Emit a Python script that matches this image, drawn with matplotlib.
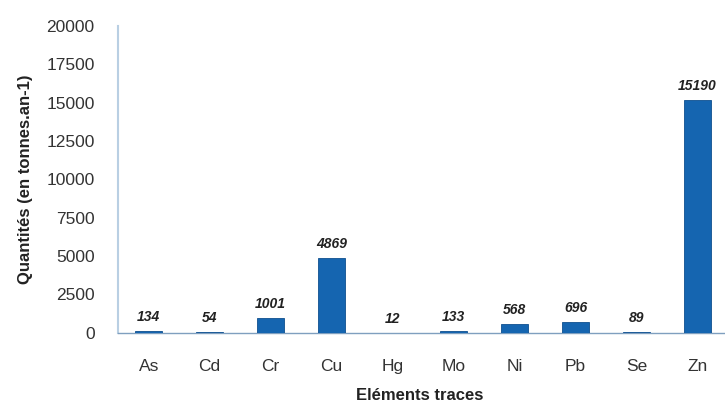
import matplotlib.pyplot as plt

# Quantités d'éléments traces (tonnes par an)
elements = ['As', 'Cd', 'Cr', 'Cu', 'Hg', 'Mo', 'Ni', 'Pb', 'Se', 'Zn']
quantites = [134, 54, 1001, 4869, 12, 133, 568, 696, 89, 15190]
y_ticks = [0, 2500, 5000, 7500, 10000, 12500, 15000, 17500, 20000]

plt.rcParams['font.family'] = ['Liberation Sans', 'DejaVu Sans']

fig = plt.figure(figsize=(7.25, 4.03), dpi=100)
ax = fig.add_axes([0.163, 0.174, 0.837, 0.762])

positions = list(range(len(elements)))
bars = ax.bar(positions, quantites, width=0.44, color='#1565b0',
              edgecolor='#0f4f8f', linewidth=0.6, zorder=3)

# Valeurs au-dessus des barres
for pos, val in zip(positions, quantites):
    ax.annotate(str(val), (pos, val), xytext=(0, 5), textcoords='offset points',
                ha='center', va='bottom', fontsize=10, fontweight='bold',
                fontstyle='italic', color='#222222')

ax.set_xlim(-0.5, 9.45)
ax.set_ylim(0, 20000)
ax.set_xticks(positions)
ax.set_xticklabels(elements)
ax.set_yticks(y_ticks)

ax.tick_params(axis='x', length=0, pad=19, labelsize=12.5, labelcolor='#333333')
ax.tick_params(axis='y', length=0, pad=17, labelsize=12.5, labelcolor='#333333')

ax.spines['top'].set_visible(False)
ax.spines['right'].set_visible(False)
ax.spines['left'].set_color('#b9cfe3')
ax.spines['left'].set_linewidth(1.5)
ax.spines['bottom'].set_color('#7f9fbf')
ax.spines['bottom'].set_linewidth(1.0)

ax.set_ylabel('Quantités (en tonnes.an-1)', fontsize=12, fontweight='bold',
              color='#222222')
ax.yaxis.set_label_coords(-0.14, 0.5)
ax.set_xlabel('Eléments traces', fontsize=12, fontweight='bold', color='#222222')
ax.xaxis.set_label_coords(0.497, -0.18)

fig.savefig('out.png', dpi=100)
